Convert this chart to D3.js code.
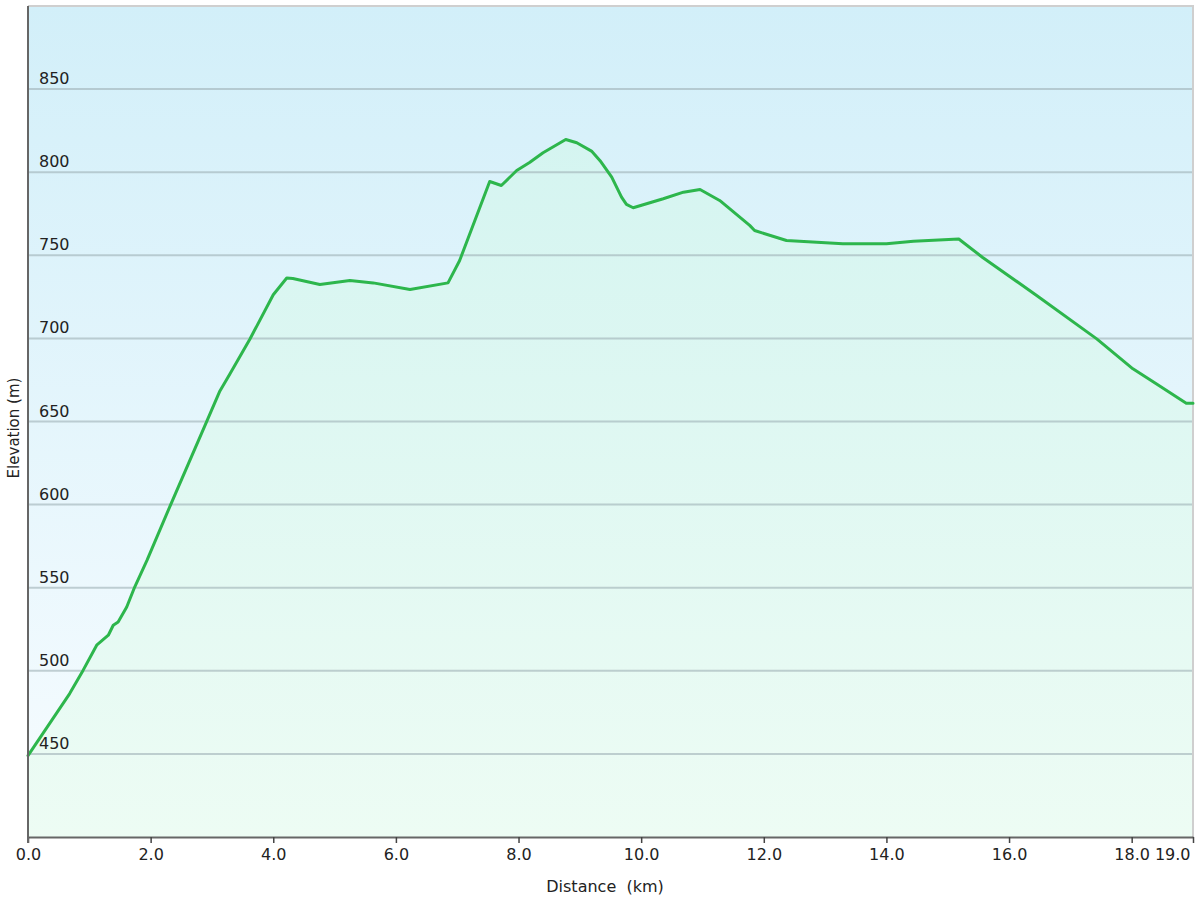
<!DOCTYPE html>
<html>
<head>
<meta charset="utf-8">
<script src="https://cdn.jsdelivr.net/npm/d3@7"></script>
<style>
  html, body { margin: 0; padding: 0; background: #fff; }
  svg { display: block; font-family: "DejaVu Sans", Verdana, sans-serif; }
</style>
</head>
<body>
<svg id="chart" width="1200" height="900"></svg>
<script>
// distance along the route (km) and elevation (m)
var distanceKm = [0.0, 0.68, 0.90, 1.12, 1.31, 1.39, 1.47, 1.61, 1.74, 1.94, 2.32, 2.91, 3.13,
    3.29, 3.62, 4.00, 4.22, 4.32, 4.76, 5.25, 5.63, 6.23, 6.85, 7.04, 7.53, 7.72, 7.97, 8.18,
    8.40, 8.77, 8.95, 9.19, 9.33, 9.52, 9.68, 9.76, 9.87, 10.36, 10.69, 10.96, 11.28, 11.77,
    11.85, 12.37, 13.29, 14.00, 14.44, 15.18, 15.57, 16.45, 17.43, 18.02, 18.40, 18.89, 19.0];
var elevationM = [449, 486.3, 500.4, 515.4, 521.4, 527.4, 529.4, 538.4, 550.4, 566.4, 599.4, 649.6, 668.4,
    678.5, 699.6, 726.3, 736.3, 736, 732.4, 734.8, 733.4, 729.4, 733.4, 746.9, 794.4, 792, 801, 805.8,
    811.7, 819.7, 817.7, 812.7, 806.9, 797, 785, 780.6, 778.6, 784, 788, 789.6, 783, 768,
    764.9, 758.9, 756.9, 756.9, 758.5, 759.8, 748.7, 725.8, 699.7, 681.7, 672.7, 661, 661];
var xTicks = [0, 2, 4, 6, 8, 10, 12, 14, 16, 18, 19];
var yTicks = [450, 500, 550, 600, 650, 700, 750, 800, 850];

var elevationChart = (function() {
    var svg = d3.select('#chart')
    var plotL = 28, plotR = 1193, plotT = 6, plotB = 837

    var x = d3.scaleLinear().domain([0, 19]).range([plotL, plotR])
    var y = d3.scaleLinear().domain([400, 900]).range([plotB, plotT])

    var defs = svg.append('defs')
    var bg = defs.append('linearGradient').attr('id', 'bgGrad')
        .attr('x1', 0).attr('y1', 0).attr('x2', 0).attr('y2', 1)
    bg.append('stop').attr('offset', '0%').attr('stop-color', '#d2eff9')
    bg.append('stop').attr('offset', '100%').attr('stop-color', '#f7fcff')

    var ag = defs.append('linearGradient').attr('id', 'areaGrad')
        .attr('gradientUnits', 'userSpaceOnUse')
        .attr('x1', 0).attr('y1', plotT).attr('x2', 0).attr('y2', plotB)
    ag.append('stop').attr('offset', '0%').attr('stop-color', '#d0f3f0')
    ag.append('stop').attr('offset', '100%').attr('stop-color', '#edfcf4')

    // plot background
    svg.append('rect')
        .attr('x', plotL).attr('y', plotT)
        .attr('width', plotR - plotL).attr('height', plotB - plotT)
        .attr('fill', 'url(#bgGrad)')

    var pts = d3.zip(distanceKm, elevationM)

    // area under profile
    svg.append('path')
        .datum(pts)
        .attr('fill', 'url(#areaGrad)')
        .attr('d', d3.area()
            .x(function(d) { return x(d[0]) })
            .y0(plotB)
            .y1(function(d) { return y(d[1]) }))

    // gridlines
    svg.append('g').selectAll('line')
        .data(yTicks)
        .enter()
        .append('line')
        .attr('x1', plotL).attr('x2', plotR)
        .attr('y1', function(d) { return y(d) })
        .attr('y2', function(d) { return y(d) })
        .attr('stroke', '#9fb0b5')
        .attr('stroke-opacity', 0.6)
        .attr('stroke-width', 2)

    // frame
    svg.append('path')
        .attr('d', 'M' + plotL + ',' + plotT + 'H' + plotR + 'V' + plotB)
        .attr('fill', 'none')
        .attr('stroke', '#cfcfcf')
        .attr('stroke-width', 2)

    // profile line
    svg.append('path')
        .datum(pts)
        .attr('fill', 'none')
        .attr('stroke', '#2db64c')
        .attr('stroke-width', 3)
        .attr('stroke-linejoin', 'round')
        .attr('stroke-linecap', 'round')
        .attr('d', d3.line()
            .x(function(d) { return x(d[0]) })
            .y(function(d) { return y(d[1]) }))

    // y labels, inside the plot above each gridline
    svg.append('g').selectAll('text')
        .data(yTicks)
        .enter()
        .append('text')
        .attr('x', 39)
        .attr('y', function(d) { return y(d) - 5 })
        .attr('font-size', 16)
        .attr('fill', '#222')
        .text(function(d) { return d })

    // x axis
    var xAxis = svg.append('g')
        .attr('transform', 'translate(0,' + plotB + ')')
        .call(d3.axisBottom(x).tickValues(xTicks).tickSize(6).tickSizeOuter(0)
            .tickFormat(d3.format('.1f')))
    xAxis.select('.domain').attr('stroke', '#666').attr('stroke-width', 2)
    xAxis.selectAll('.tick line').attr('stroke', '#444').attr('stroke-width', 1.5)
    xAxis.selectAll('.tick text')
        .attr('font-size', 16)
        .attr('font-family', '"DejaVu Sans", Verdana, sans-serif')
        .attr('fill', '#222')
        .attr('dy', '0.9em')
        .attr('text-anchor', function(d) { return d == 19 ? 'end' : 'middle' })
        .attr('dx', function(d) { return d == 19 ? -3 : 0 })

    // y axis line
    svg.append('line')
        .attr('x1', plotL).attr('x2', plotL)
        .attr('y1', plotT).attr('y2', plotB + 6)
        .attr('stroke', '#666')
        .attr('stroke-width', 2)

    // axis titles
    svg.append('text')
        .attr('x', 605).attr('y', 892)
        .attr('text-anchor', 'middle')
        .attr('font-size', 16)
        .attr('fill', '#222')
        .attr('xml:space', 'preserve')
        .text('Distance  (km)')

    svg.append('text')
        .attr('transform', 'translate(19,428) rotate(-90)')
        .attr('text-anchor', 'middle')
        .attr('font-size', 15)
        .attr('fill', '#222')
        .text('Elevation (m)')

    return { x: x, y: y }
})();
</script>
</body>
</html>
